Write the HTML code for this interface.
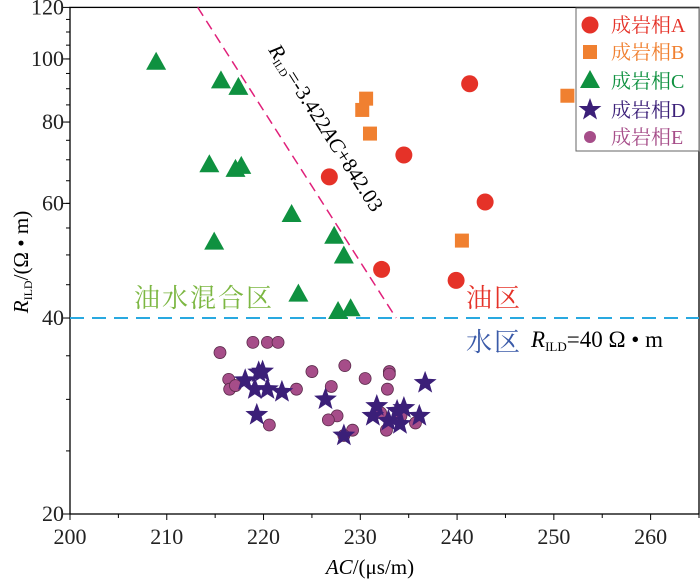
<!DOCTYPE html>
<html><head><meta charset="utf-8"><style>
body{margin:0;background:#fff}
svg{display:block;font-family:"Liberation Serif","Noto Serif CJK SC",serif}
</style></head><body>
<svg id="chart" width="700" height="579" viewBox="0 0 700 579" xmlns="http://www.w3.org/2000/svg"></svg>
<script>
const xTicks=[200,210,220,230,240,250,260];
const yTicks=[20,40,60,80,100,120];
const aX=[241.3,234.5,226.8,242.9,232.2,239.9];
const aY=[91.6,71.2,65.9,60.3,47.5,45.7];
const bX=[230.6,230.2,231.0,240.5,251.4];
const bY=[86.9,83.5,76.8,52.6,87.8];
const cX=[208.9,215.6,217.4,214.4,217.1,217.7,222.9,214.9,227.3,228.3,223.6,227.7,229.0];
const cY=[99,92.7,90.6,68.9,67.8,68.5,57.8,52.4,53.5,49.9,43.6,41.0,41.4];
const dX=[218.1,219.5,219.9,219.1,220.4,221.9,219.3,226.4,228.3,231.7,231.3,232.9,234.1,234.5,236.1,236.7,233.8];
const dY=[32.1,33.0,33.1,31.1,31.1,30.8,28.4,30.0,26.4,29.3,28.3,27.8,27.5,29.1,28.3,31.8,28.8];
const eX=[215.5,218.9,220.4,221.5,216.4,216.5,217.1,223.4,225.0,228.4,227.0,227.6,226.7,220.6,229.2,228.3,230.5,233.0,233.0,232.8,232.1,232.7,234.2,235.7];
const eY=[35.4,36.7,36.7,36.7,32.2,31.1,31.5,31.1,33.1,33.8,31.4,28.3,27.9,27.4,26.9,26.4,32.3,33.1,32.8,31.1,28.6,26.9,28.3,27.6];
const lineX=[213.2,233.7];
const lineY=[120,40];
const thresh=40;

const L=70,R=699,T=7.4,B=514;
const sx=v=>L+(v-200)*(R-L)/65;
const sy=v=>B-Math.log(v/20)*(B-T)/Math.log(6);
const svg=document.getElementById('chart');
const NS='http://www.w3.org/2000/svg';
function mk(tag,at,parent){const e=document.createElementNS(NS,tag);for(const k in at)e.setAttribute(k,at[k]);(parent||svg).appendChild(e);return e;}

let fr=mk('rect',{x:L,y:T,width:R-L,height:B-T,fill:'none',stroke:'#000','stroke-width':1.3});



xTicks.forEach(v=>{
  let t=mk('line',{x1:sx(v),x2:sx(v),y1:B,y2:B+6,stroke:'#000'});
  
  
  let lb=mk('text',{x:sx(v),y:B+30,'font-size':22,'text-anchor':'middle',fill:'#222'});
  lb.textContent=v;
  
  
  if(v<265){let m=mk('line',{x1:sx(v+5),x2:sx(v+5),y1:B,y2:B+4,stroke:'#000'});
  
  }
});
for(let v=25;v<120;v+=5){
  let m=mk('line',{x1:L-4,x2:L,y1:sy(v),y2:sy(v),stroke:'#000'});
  
  
}
yTicks.forEach(v=>{
  let t=mk('line',{x1:L-8,x2:L,y1:sy(v),y2:sy(v),stroke:'#000'});
  
  
  let lb=mk('text',{x:L-6,y:sy(v)+7,'font-size':22,'text-anchor':'end',fill:'#222'});
  lb.textContent=v;
  
  
});

let th=mk('line',{x1:L,x2:R,y1:sy(thresh),y2:sy(thresh),stroke:'#29a9e0','stroke-width':2,'stroke-dasharray':'14,8'});


let rl=mk('line',{x1:sx(lineX[0]),y1:sy(lineY[0]),x2:sx(lineX[1]),y2:sy(lineY[1]),stroke:'#e0207a','stroke-width':1.5,'stroke-dasharray':'10,6'});



function star(cx,cy,r){let p=[];for(let i=0;i<10;i++){const a=-Math.PI/2+i*Math.PI/5;const rr=i%2?r*0.42:r;p.push((cx+rr*Math.cos(a)).toFixed(1)+','+(cy+rr*Math.sin(a)).toFixed(1));}return p.join(' ');}

eX.forEach((x,i)=>{let c=mk('circle',{cx:sx(x),cy:sy(eY[i]),r:6,fill:'#a64d89',stroke:'#5a2a4a','stroke-width':0.8});

});
dX.forEach((x,i)=>{let s=mk('polygon',{points:star(sx(x),sy(dY[i]),12),fill:'#3b1f78'});

});
cX.forEach((x,i)=>{const X=sx(x),Y=sy(cY[i]);let t=mk('polygon',{points:`${X},${Y-10} ${X+10},${Y+8} ${X-10},${Y+8}`,fill:'#0f9140'});

});
bX.forEach((x,i)=>{let s=mk('rect',{x:sx(x)-7,y:sy(bY[i])-7,width:14,height:14,fill:'#f08030'});

});
aX.forEach((x,i)=>{let c=mk('circle',{cx:sx(x),cy:sy(aY[i]),r:8.5,fill:'#e53228'});

});
</script>
<svg style="position:absolute;left:0;top:0" width="700" height="579" xmlns="http://www.w3.org/2000/svg" font-family="'Liberation Serif','Noto Serif CJK SC',serif">
<g>
<rect x="576" y="8" width="123" height="143" fill="#fff" stroke="#666" stroke-width="1"/>
<circle cx="590" cy="25" r="8.5" fill="#e53228"/>
<text x="611" y="32" font-size="20" fill="#e53228">成岩相A</text>
<rect x="583" y="45" width="14" height="14" fill="#f08030"/>
<text x="611" y="59" font-size="20" fill="#f08030">成岩相B</text>
<polygon points="590,70 600,88 580,88" fill="#0f9140"/>
<text x="611" y="88" font-size="20" fill="#0f9140">成岩相C</text>
<polygon points="590,98 592.9,106 601.4,106 594.6,111.3 597,119.5 590,114.6 583,119.5 585.4,111.3 578.6,106 587.1,106" fill="#3b1f78"/>
<text x="611" y="117" font-size="20" fill="#3b1f78">成岩相D</text>
<circle cx="590" cy="137" r="6" fill="#a64d89"/>
<text x="611" y="144" font-size="20" fill="#a64d89">成岩相E</text>
</g>
<text x="134" y="307" font-size="26" fill="#7cb742" letter-spacing="2">油水混合区</text>
<text x="466" y="307" font-size="26" fill="#e53228" letter-spacing="2">油区</text>
<text x="466" y="351" font-size="26" fill="#3a5aa8" letter-spacing="2">水区</text>
<text x="531" y="347" font-size="23" fill="#000"><tspan font-style="italic">R</tspan><tspan font-size="13" dy="4">ILD</tspan><tspan dy="-4">=40 Ω • m</tspan></text>
<text transform="translate(268,50) rotate(57.4)" font-size="21" fill="#000"><tspan font-style="italic">R</tspan><tspan font-size="11" dy="3">ILD</tspan><tspan dy="-3">=-3.422</tspan><tspan font-style="italic">AC</tspan><tspan>+842.03</tspan></text>
<text transform="translate(28,262) rotate(-90)" text-anchor="middle" font-size="21" fill="#000"><tspan font-style="italic">R</tspan><tspan font-size="12" dy="4">ILD</tspan><tspan dy="-4">/(Ω • m)</tspan></text>
<text x="370" y="574" text-anchor="middle" font-size="21" fill="#000"><tspan font-style="italic">AC</tspan>/(μs/m)</text>
</svg>
</body></html>
